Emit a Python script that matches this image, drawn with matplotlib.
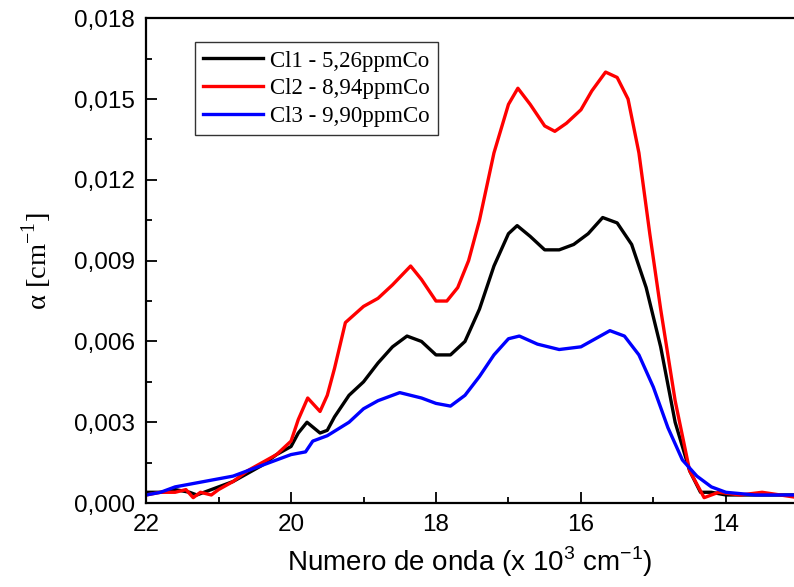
import numpy as np
import matplotlib
matplotlib.use("Agg")
import matplotlib.pyplot as plt
from matplotlib.ticker import MultipleLocator, FuncFormatter

# wavenumber (x 10^3 cm^-1) and absorption coefficient alpha (cm^-1)
x_cl1 = [22.0, 21.8, 21.6, 21.4, 21.3, 21.2, 21.0, 20.8, 20.6, 20.4, 20.2, 20.0, 19.9, 19.78,
         19.6, 19.5, 19.4, 19.2, 19.0, 18.8, 18.6, 18.4, 18.2, 18.0, 17.8, 17.6, 17.4, 17.2,
         17.0, 16.88, 16.7, 16.5, 16.3, 16.1, 15.9, 15.7, 15.5, 15.3, 15.1, 14.9, 14.7, 14.5,
         14.35, 14.2, 14.0, 13.7, 13.4, 13.0]
y_cl1 = [0.0004, 0.0004, 0.0005, 0.0004, 0.0003, 0.0004, 0.0006, 0.0008, 0.0011, 0.0014, 0.0018,
         0.0021, 0.0026, 0.0030, 0.0026, 0.0027, 0.0032, 0.0040, 0.0045, 0.0052, 0.0058, 0.0062,
         0.0060, 0.0055, 0.0055, 0.0060, 0.0072, 0.0088, 0.0100, 0.0103, 0.0099, 0.0094, 0.0094,
         0.0096, 0.0100, 0.0106, 0.0104, 0.0096, 0.0080, 0.0058, 0.0030, 0.0012, 0.0004, 0.0004,
         0.0003, 0.0003, 0.0003, 0.0003]

x_cl2 = [22.0, 21.8, 21.6, 21.45, 21.35, 21.25, 21.1, 21.0, 20.8, 20.6, 20.4, 20.2, 20.0, 19.9,
         19.77, 19.6, 19.5, 19.4, 19.25, 19.0, 18.8, 18.6, 18.35, 18.2, 18.0, 17.85, 17.7, 17.55,
         17.4, 17.2, 17.0, 16.87, 16.7, 16.5, 16.36, 16.2, 16.0, 15.85, 15.66, 15.5, 15.35, 15.2,
         15.05, 14.9, 14.7, 14.5, 14.3, 14.1, 13.8, 13.5, 13.0]
y_cl2 = [0.0003, 0.0004, 0.0004, 0.0005, 0.0002, 0.0004, 0.0003, 0.0005, 0.0008, 0.0012, 0.0015,
         0.0018, 0.0023, 0.0031, 0.0039, 0.0034, 0.0040, 0.0050, 0.0067, 0.0073, 0.0076, 0.0081,
         0.0088, 0.0083, 0.0075, 0.0075, 0.0080, 0.0090, 0.0105, 0.0130, 0.0148, 0.0154, 0.0148,
         0.0140, 0.0138, 0.0141, 0.0146, 0.0153, 0.0160, 0.0158, 0.0150, 0.0130, 0.0100, 0.0072,
         0.0038, 0.0012, 0.0002, 0.0004, 0.0003, 0.0004, 0.0002]

x_cl3 = [22.0, 21.8, 21.6, 21.4, 21.2, 21.0, 20.8, 20.6, 20.4, 20.2, 20.0, 19.8, 19.7, 19.5, 19.2,
         19.0, 18.8, 18.5, 18.2, 18.0, 17.8, 17.6, 17.4, 17.2, 17.0, 16.85, 16.6, 16.3, 16.0,
         15.8, 15.6, 15.4, 15.2, 15.0, 14.8, 14.6, 14.4, 14.2, 14.0, 13.6, 13.2, 13.0]
y_cl3 = [0.0003, 0.0004, 0.0006, 0.0007, 0.0008, 0.0009, 0.0010, 0.0012, 0.0014, 0.0016, 0.0018,
         0.0019, 0.0023, 0.0025, 0.0030, 0.0035, 0.0038, 0.0041, 0.0039, 0.0037, 0.0036, 0.0040,
         0.0047, 0.0055, 0.0061, 0.0062, 0.0059, 0.0057, 0.0058, 0.0061, 0.0064, 0.0062, 0.0055,
         0.0043, 0.0028, 0.0016, 0.0010, 0.0006, 0.0004, 0.0003, 0.0003, 0.0003]

labels = ["Cl1 - 5,26ppmCo", "Cl2 - 8,94ppmCo", "Cl3 - 9,90ppmCo"]
colors = ["black", "#ff0000", "#0000ff"]

plt.rcParams['font.family'] = ['Liberation Sans', 'DejaVu Sans']

fig = plt.figure(figsize=(7.94, 5.87), dpi=100)
ax = fig.add_axes([0.184, 0.143, 0.816, 0.826])

for xs, ys, lab, c in zip([x_cl1, x_cl2, x_cl3], [y_cl1, y_cl2, y_cl3], labels, colors):
    ax.plot(xs, ys, color=c, lw=2.4, label=lab)

ax.set_xlim(22, 13.06)
ax.set_ylim(0, 0.018)
ax.xaxis.set_major_locator(MultipleLocator(2))
ax.xaxis.set_minor_locator(MultipleLocator(1))
ax.yaxis.set_major_locator(MultipleLocator(0.003))
ax.yaxis.set_minor_locator(MultipleLocator(0.0015))
ax.yaxis.set_major_formatter(FuncFormatter(lambda v, p: ("%.3f" % v).replace(".", ",")))
ax.xaxis.set_major_formatter(FuncFormatter(lambda v, p: "%d" % v))

ax.tick_params(which='both', direction='in', top=False, right=False, width=1.3)
ax.tick_params(which='major', length=8, labelsize=17.5, pad=8)
ax.tick_params(which='minor', length=4)
for s in ax.spines.values():
    s.set_linewidth(1.6)
ax.spines['right'].set_visible(False)

ax.set_xlabel(r"Numero de onda (x 10$^{\mathregular{3}}$ cm$^{\mathregular{-1}}$)", fontsize=20, labelpad=6)
ax.set_ylabel(r"α [cm$^{\mathregular{-1}}$]", fontsize=20.5, family=['Liberation Serif', 'DejaVu Serif'], labelpad=14)

leg = ax.legend(loc='upper left', bbox_to_anchor=(0.076, 0.95), borderaxespad=0, frameon=True, fancybox=False,
                edgecolor='black', handlelength=2.6, handletextpad=0.3, borderpad=0.35,
                labelspacing=0.3, prop={'family': 'Liberation Serif', 'size': 16.5})
leg.get_frame().set_linewidth(1.0)

fig.savefig("out.png", dpi=100)
